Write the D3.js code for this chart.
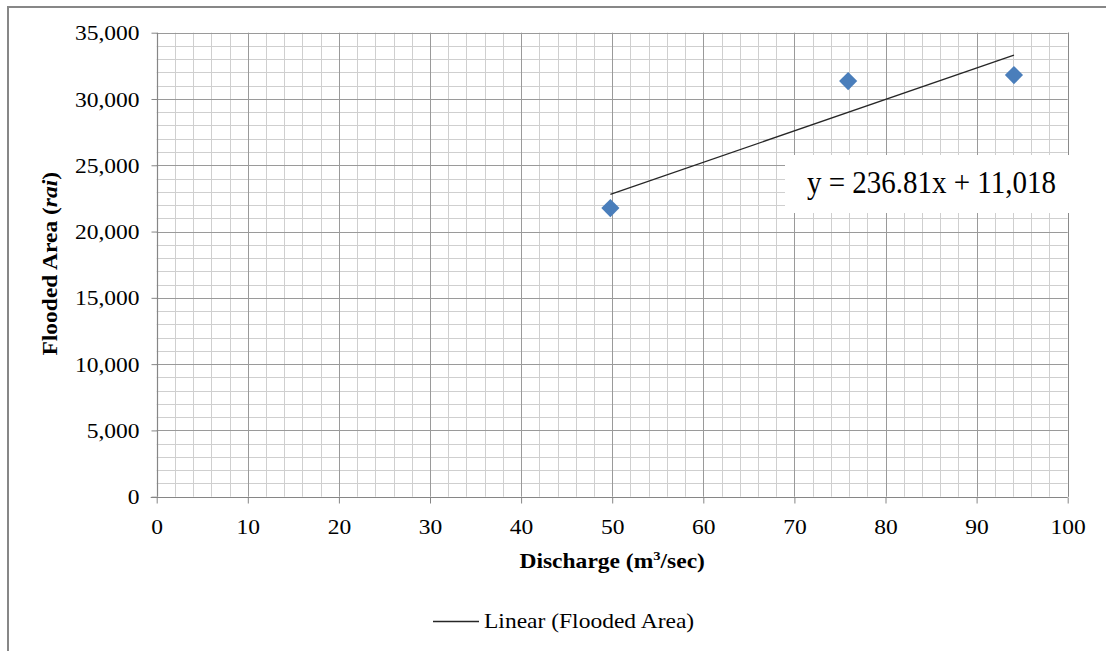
<!DOCTYPE html>
<html>
<head>
<meta charset="utf-8">
<script src="https://cdn.jsdelivr.net/npm/d3@7"></script>
<style>
  html, body { margin: 0; padding: 0; background: #fff; }
  svg { display: block; }
  text { font-family: "Liberation Serif", "Times New Roman", serif; fill: #000; }
</style>
</head>
<body>
<svg id="chart" width="1106" height="651"></svg>
<script>
// ---- data ----
const discharge = [49.8, 75.9, 94.1];          // m3/sec
const floodedArea = [21770, 31350, 31800];      // rai
const trendSlope = [236.81];
const trendIntercept = [11018];
const trendLabel = ["y = 236.81x + 11,018"];
const xTicks = [0, 10, 20, 30, 40, 50, 60, 70, 80, 90, 100];
const yTicks = [0, 5000, 10000, 15000, 20000, 25000, 30000, 35000];
const legendLabels = ["Linear (Flooded Area)"];

// ---- layout ----
const SX = 1.12; // horizontal stretch of text seen in the reference
const svg = d3.select("#chart");
const L = 156.7, R = 1067.7, T = 32.7, B = 496.7;
const x = d3.scaleLinear().domain([0, 100]).range([L, R]);
const y = d3.scaleLinear().domain([0, 35000]).range([B, T]);

// outer chart border
svg.append("rect").attr("x", 8).attr("y", 7).attr("width", 1120).attr("height", 700)
  .attr("fill", "none").attr("stroke", "#878787").attr("stroke-width", 2);

// minor gridlines
const xMinor = d3.range(0, 101, 2).filter(v => v % 10 !== 0);
const yMinor = d3.range(0, 35001, 1000).filter(v => v % 5000 !== 0);
const grid = svg.append("g");
grid.selectAll(".xm").data(xMinor).join("line")
  .attr("x1", d => Math.round(x(d)) + 0.5).attr("x2", d => Math.round(x(d)) + 0.5)
  .attr("y1", T).attr("y2", B).attr("stroke", "#cfcfcf").attr("stroke-width", 1);
grid.selectAll(".ym").data(yMinor).join("line")
  .attr("y1", d => Math.round(y(d)) + 0.5).attr("y2", d => Math.round(y(d)) + 0.5)
  .attr("x1", L).attr("x2", R).attr("stroke", "#cfcfcf").attr("stroke-width", 1);
// major gridlines
grid.selectAll(".xM").data(xTicks.filter(v => v > 0)).join("line")
  .attr("x1", d => Math.round(x(d)) + 0.5).attr("x2", d => Math.round(x(d)) + 0.5)
  .attr("y1", T).attr("y2", B).attr("stroke", "#9a9a9a").attr("stroke-width", 1);
grid.selectAll(".yM").data(yTicks.filter(v => v > 0)).join("line")
  .attr("y1", d => Math.round(y(d)) + 0.5).attr("y2", d => Math.round(y(d)) + 0.5)
  .attr("x1", L).attr("x2", R).attr("stroke", "#9a9a9a").attr("stroke-width", 1);

// axes
const fmt = d3.format(",");
const xAxis = svg.append("g").attr("transform", `translate(0,${Math.round(B) + 0.5})`)
  .call(d3.axisBottom(x).tickValues(xTicks).tickSize(6).tickPadding(16).tickFormat(d3.format("d")));
const yAxis = svg.append("g").attr("transform", `translate(${Math.round(L) + 0.5},0)`)
  .call(d3.axisLeft(y).tickValues(yTicks).tickSize(6).tickPadding(10).tickFormat(fmt));
[xAxis, yAxis].forEach(g => {
  g.select(".domain").attr("stroke", "#868686").attr("stroke-width", 1.2);
  g.selectAll(".tick line").attr("stroke", "#868686");
  g.selectAll("text").attr("font-family", "Liberation Serif").attr("font-size", 21).attr("fill", "#000")
    .attr("transform", `scale(${SX},1)`);
});
xAxis.select(".domain").attr("d", `M${L - 6},0H${R}`);
yAxis.select(".domain").attr("d", `M0,${B}V${T}`);
yAxis.selectAll(".tick text").attr("dy", "0.34em");
xAxis.selectAll(".tick text").attr("dy", "0.71em");

// right plot edge
svg.append("line").attr("x1", Math.round(R) + 0.5).attr("x2", Math.round(R) + 0.5)
  .attr("y1", T).attr("y2", B).attr("stroke", "#8a8a8a");

// trendline
const xMin = d3.min(discharge), xMax = d3.max(discharge);
const trend = [xMin, xMax].map(v => [v, trendSlope[0] * v + trendIntercept[0]]);
svg.append("path")
  .attr("d", d3.line().x(d => x(d[0])).y(d => y(d[1]))(trend))
  .attr("fill", "none").attr("stroke", "#262626").attr("stroke-width", 1.3);

// points
const pts = discharge.map((d, i) => [d, floodedArea[i]]);
svg.selectAll(".pt").data(pts).join("path")
  .attr("d", d3.symbol(d3.symbolSquare, 165))
  .attr("transform", d => `translate(${x(d[0])},${y(d[1])}) rotate(45)`)
  .attr("fill", "#4a7ebb");

// equation label
svg.append("rect").attr("x", 785).attr("y", 155).attr("width", 287).attr("height", 58).attr("fill", "#fff");
svg.append("text").attr("transform", "translate(807,193) scale(1.0,1.07)").attr("font-size", 29).text(trendLabel[0]);

// axis titles
const xt = svg.append("text").attr("transform", `translate(${(L + R) / 2},568) scale(${SX},1)`)
  .attr("text-anchor", "middle").attr("font-weight", "bold").attr("font-size", 21);
xt.append("tspan").text("Discharge (m");
xt.append("tspan").attr("font-size", 13).attr("dy", -8).text("3");
xt.append("tspan").attr("dy", 8).text("/sec)");

const yt = svg.append("text").attr("transform", `translate(57,${(T + B) / 2 - 1}) rotate(-90) scale(${SX},1)`)
  .attr("text-anchor", "middle").attr("font-weight", "bold").attr("font-size", 21);
yt.append("tspan").text("Flooded Area (");
yt.append("tspan").attr("font-style", "italic").text("rai");
yt.append("tspan").text(")");

// legend
svg.append("line").attr("x1", 433).attr("x2", 479).attr("y1", 621.5).attr("y2", 621.5)
  .attr("stroke", "#262626").attr("stroke-width", 1.3);
svg.append("text").attr("transform", `translate(484,628) scale(${SX},1)`).attr("font-size", 21).text(legendLabels[0]);
</script>
</body>
</html>
